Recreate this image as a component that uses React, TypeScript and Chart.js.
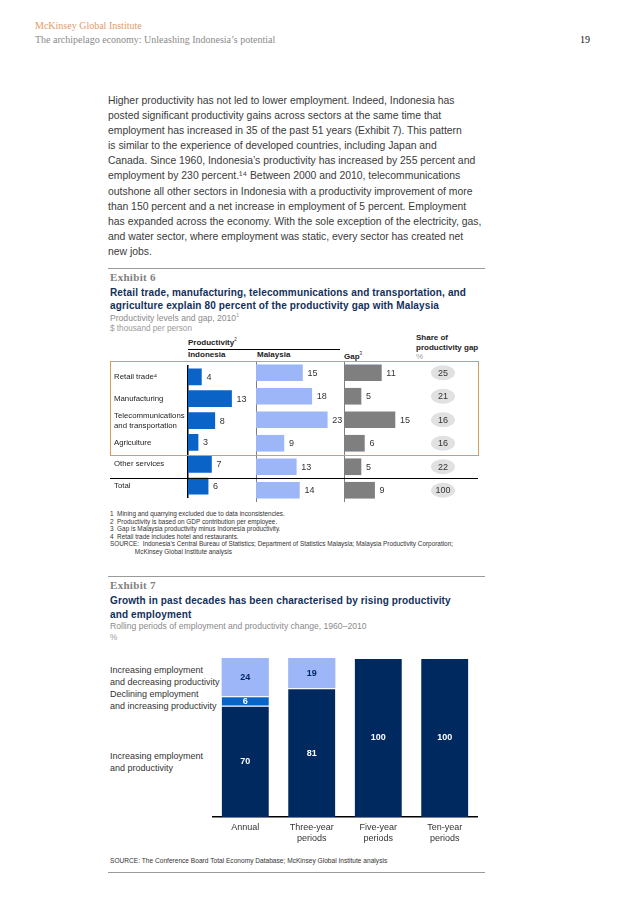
import React, { useEffect, useRef } from "react";
import { Chart, registerables } from "chart.js";

Chart.register(...registerables);

// ---------- Data ----------
const sectors: (string | string[])[] = [
  "Retail trade⁴",
  "Manufacturing",
  ["Telecommunications", "and transportation"],
  "Agriculture",
  "Other services",
  "Total",
];
const indonesiaProd = [4, 13, 8, 3, 7, 6];
const malaysiaProd = [15, 18, 23, 9, 13, 14];
const gapProd = [11, 5, 15, 6, 5, 9];
const shareOfGap = [25, 21, 16, 16, 22, 100];

const periods: string[][] = [
  ["Annual"],
  ["Three-year", "periods"],
  ["Five-year", "periods"],
  ["Ten-year", "periods"],
];
const incEmpIncProd = [70, 81, 100, 100];
const decEmpIncProd = [6, 0, 0, 0];
const incEmpDecProd = [24, 19, 0, 0];

const bodyLines = [
  "Higher productivity has not led to lower employment. Indeed, Indonesia has",
  "posted significant productivity gains across sectors at the same time that",
  "employment has increased in 35 of the past 51 years (Exhibit 7). This pattern",
  "is similar to the experience of developed countries, including Japan and",
  "Canada. Since 1960, Indonesia’s productivity has increased by 255 percent and",
  "employment by 230 percent.¹⁴ Between 2000 and 2010, telecommunications",
  "outshone all other sectors in Indonesia with a productivity improvement of more",
  "than 150 percent and a net increase in employment of 5 percent. Employment",
  "has expanded across the economy. With the sole exception of the electricity, gas,",
  "and water sector, where employment was static, every sector has created net",
  "new jobs.",
];

// ---------- Styles ----------
const SANS = "'Liberation Sans', Arial, Helvetica, sans-serif";
const SERIF = "'Liberation Serif', 'Times New Roman', serif";
const NAVY = "#002960";
const MIDBLUE = "#0a64c8";
const LIGHTBLUE = "#9db6f8";
const GAPGRAY = "#7f7f7f";
const TITLE = "#12305c";

const abs = (l: number, t: number, extra: React.CSSProperties = {}): React.CSSProperties => ({
  position: "absolute",
  left: l,
  top: t,
  ...extra,
});

// Plugin: value label at bar end (horizontal bars)
const endLabels = {
  id: "endLabels",
  afterDatasetsDraw(chart: any) {
    const ctx = chart.ctx;
    ctx.save();
    ctx.font = `9px ${SANS}`;
    ctx.fillStyle = "#333";
    ctx.textBaseline = "middle";
    ctx.textAlign = "left";
    const meta = chart.getDatasetMeta(0);
    const data = chart.data.datasets[0].data;
    meta.data.forEach((el: any, i: number) => {
      ctx.fillText(String(data[i]), el.x + 5, el.y + 0.5);
    });
    ctx.restore();
  },
};

// Plugin: share pills (drawn right of gap chart, on the same category scale)
const pillsPlugin = {
  id: "pills",
  afterDatasetsDraw(chart: any, _args: any, opts: any) {
    const ctx = chart.ctx;
    const yScale = chart.scales.y;
    const values: number[] = opts.values || [];
    const cx = chart.chartArea.right + opts.offset;
    ctx.save();
    values.forEach((v, i) => {
      const cy = yScale.getPixelForValue(i);
      ctx.beginPath();
      ctx.ellipse(cx, cy, 12, 7.5, 0, 0, Math.PI * 2);
      ctx.fillStyle = "#e1e1e1";
      ctx.fill();
      ctx.fillStyle = "#333";
      ctx.font = `9px ${SANS}`;
      ctx.textAlign = "center";
      ctx.textBaseline = "middle";
      ctx.fillText(String(v), cx, cy + 0.5);
    });
    ctx.restore();
  },
};

function makeHBar(
  canvas: HTMLCanvasElement,
  values: number[],
  color: string,
  max: number,
  opts: { showLabels?: boolean; padLeft?: number; padRight?: number; pills?: number[] }
) {
  return new Chart(canvas, {
    type: "bar",
    data: {
      labels: sectors as any,
      datasets: [
        {
          data: values,
          backgroundColor: color,
          barThickness: 16,
          borderWidth: 0,
        },
      ],
    },
    options: {
      indexAxis: "y",
      animation: false,
      responsive: false,
      maintainAspectRatio: false,
      layout: { padding: { left: opts.padLeft || 0, right: opts.padRight || 0, top: 0, bottom: 0 } },
      plugins: {
        legend: { display: false },
        tooltip: { enabled: false },
        pills: { values: opts.pills || [], offset: 28 },
      } as any,
      scales: {
        x: { display: false, min: 0, max },
        y: {
          display: true,
          grid: { display: false, drawTicks: false },
          border: { display: true, color: "#000", width: 1.5 },
          ticks: opts.showLabels
            ? {
                display: true,
                crossAlign: "far",
                padding: 0,
                color: "#222",
                font: { family: SANS, size: 7.8, lineHeight: 1.25 },
              }
            : { display: false },
          afterFit: (s: any) => {
            s.width = opts.showLabels ? 74 : 0;
          },
        } as any,
      },
    },
    plugins: opts.pills ? [endLabels, pillsPlugin] : [endLabels],
  } as any);
}

function Exhibit6Charts() {
  const r1 = useRef<HTMLCanvasElement>(null);
  const r2 = useRef<HTMLCanvasElement>(null);
  const r3 = useRef<HTMLCanvasElement>(null);
  useEffect(() => {
    const c1 = makeHBar(r1.current!, indonesiaProd, MIDBLUE, 20.3, { showLabels: true, padLeft: 4 });
    const c2 = makeHBar(r2.current!, malaysiaProd, LIGHTBLUE, 28.4, {});
    const c3 = makeHBar(r3.current!, gapProd, GAPGRAY, 20.9, { padRight: 63, pills: shareOfGap });
    return () => {
      c1.destroy();
      c2.destroy();
      c3.destroy();
    };
  }, []);
  return (
    <>
      <canvas ref={r1} width={146} height={141} style={abs(110, 361, { width: 146, height: 141 })} />
      <canvas ref={r2} width={88} height={141} style={abs(256, 361, { width: 88, height: 141 })} />
      <canvas ref={r3} width={134} height={141} style={abs(344, 361, { width: 134, height: 141 })} />
    </>
  );
}

const segLabels = {
  id: "segLabels",
  afterDatasetsDraw(chart: any) {
    const ctx = chart.ctx;
    ctx.save();
    ctx.font = `bold 9px ${SANS}`;
    ctx.textAlign = "center";
    ctx.textBaseline = "middle";
    chart.data.datasets.forEach((ds: any, di: number) => {
      const meta = chart.getDatasetMeta(di);
      meta.data.forEach((el: any, i: number) => {
        const v = ds.data[i];
        if (!v) return;
        ctx.fillStyle = ds.labelColor;
        ctx.fillText(String(v), el.x, (el.y + el.base) / 2 + 0.5);
      });
    });
    ctx.restore();
  },
};

function Exhibit7Chart() {
  const ref = useRef<HTMLCanvasElement>(null);
  useEffect(() => {
    const chart = new Chart(ref.current!, {
      type: "bar",
      data: {
        labels: periods as any,
        datasets: [
          {
            data: incEmpIncProd,
            backgroundColor: NAVY,
            labelColor: "#fff",
            borderColor: "#fff",
            borderWidth: { top: 1, bottom: 0, left: 0, right: 0 },
            borderSkipped: false,
          },
          {
            data: decEmpIncProd,
            backgroundColor: MIDBLUE,
            labelColor: "#fff",
            borderColor: "#fff",
            borderWidth: { top: 1, bottom: 0, left: 0, right: 0 },
            borderSkipped: false,
          },
          {
            data: incEmpDecProd,
            backgroundColor: LIGHTBLUE,
            labelColor: NAVY,
            borderWidth: 0,
          },
        ] as any,
      },
      options: {
        animation: false,
        responsive: false,
        maintainAspectRatio: false,
        layout: { padding: { top: 8, left: 0, right: 0, bottom: 0 } },
        datasets: { bar: { categoryPercentage: 1, barPercentage: 0.71 } },
        plugins: { legend: { display: false }, tooltip: { enabled: false } },
        scales: {
          x: {
            stacked: true,
            grid: { display: false, drawTicks: false },
            border: { display: true, color: "#000", width: 1.5 },
            ticks: {
              color: "#333",
              padding: 5,
              font: { family: SANS, size: 9, lineHeight: 1.2 },
              maxRotation: 0,
              autoSkip: false,
            },
            afterFit: (s: any) => {
              s.height = 30;
            },
          } as any,
          y: { stacked: true, display: false, min: 0, max: 100 },
        },
      },
      plugins: [segLabels],
    } as any);
    return () => chart.destroy();
  }, []);
  return <canvas ref={ref} width={266} height={197} style={abs(212, 650, { width: 266, height: 197 })} />;
}

export default function App() {
  const lineStyle = (t: number): React.CSSProperties =>
    abs(108, t, { width: 377, height: 0, borderTop: "1.5px solid #9a9a9a" });
  const foot: React.CSSProperties = { fontFamily: SANS, fontSize: 6.4, color: "#333", lineHeight: "7.6px", whiteSpace: "pre" };
  const legendTxt: React.CSSProperties = { fontFamily: SANS, fontSize: 9, color: "#333", lineHeight: "12px", whiteSpace: "pre" };
  return (
    <div style={{ position: "absolute", left: 0, top: 0, width: 638, height: 903, background: "#fff", overflow: "hidden" }}>
      {/* Page header */}
      <div style={abs(35, 20, { fontFamily: SERIF, fontSize: 10, color: "#e39a68", whiteSpace: "pre" })}>McKinsey Global Institute</div>
      <div style={abs(35, 34, { fontFamily: SERIF, fontSize: 10, color: "#8a8a8a", whiteSpace: "pre" })}>
        The archipelago economy: Unleashing Indonesia’s potential
      </div>
      <div style={abs(580, 34, { fontFamily: SERIF, fontSize: 10, color: "#111" })}>19</div>

      {/* Body text */}
      <div style={abs(108, 93, { fontFamily: SANS, fontSize: 10.4, color: "#3a3a3a", lineHeight: "15.1px", whiteSpace: "pre" })}>
        {bodyLines.map((l, i) => (
          <div key={i}>{l}</div>
        ))}
      </div>

      {/* Exhibit 6 */}
      <div style={lineStyle(268)} />
      <div style={abs(110, 271, { fontFamily: SERIF, fontSize: 11, fontWeight: "bold", color: "#808080", letterSpacing: 0.3 })}>Exhibit 6</div>
      <div style={abs(110, 286, { fontFamily: SANS, fontSize: 10, fontWeight: "bold", color: TITLE, lineHeight: "13px", whiteSpace: "pre", letterSpacing: 0.14 })}>
        {"Retail trade, manufacturing, telecommunications and transportation, and\nagriculture explain 80 percent of the productivity gap with Malaysia"}
      </div>
      <div style={abs(110, 312, { fontFamily: SANS, fontSize: 8.6, color: "#8a8a8a", whiteSpace: "pre" })}>
        Productivity levels and gap, 2010<sup style={{ fontSize: 5 }}>1</sup>
      </div>
      <div style={abs(110, 324, { fontFamily: SANS, fontSize: 8.2, color: "#9a9a9a", whiteSpace: "pre" })}>$ thousand per person</div>

      <div style={abs(188, 337, { fontFamily: SANS, fontSize: 8, fontWeight: "bold", color: "#222" })}>
        Productivity<sup style={{ fontSize: 4.5, fontWeight: "normal" }}>2</sup>
      </div>
      <div style={abs(188, 349, { width: 152, height: 0, borderTop: "1px solid #000" })} />
      <div style={abs(188, 350, { fontFamily: SANS, fontSize: 8, fontWeight: "bold", color: "#222" })}>Indonesia</div>
      <div style={abs(257, 350, { fontFamily: SANS, fontSize: 8, fontWeight: "bold", color: "#222" })}>Malaysia</div>
      <div style={abs(344, 351, { fontFamily: SANS, fontSize: 8, fontWeight: "bold", color: "#222" })}>
        Gap<sup style={{ fontSize: 4.5, fontWeight: "normal" }}>3</sup>
      </div>
      <div style={abs(416, 333, { fontFamily: SANS, fontSize: 8, fontWeight: "bold", color: "#222", lineHeight: "10px", whiteSpace: "pre" })}>
        {"Share of\nproductivity gap"}
      </div>
      <div style={abs(416, 352, { fontFamily: SANS, fontSize: 8, color: "#a0a0a0" })}>%</div>
      <div style={abs(415, 361, { width: 63, height: 0, borderTop: "1px solid #000" })} />

      <Exhibit6Charts />
      <div style={abs(110, 361, { width: 367, height: 93, border: "1px solid #d99a5c", boxSizing: "content-box", pointerEvents: "none" })} />
      <div style={abs(110, 478, { width: 368, height: 0, borderTop: "1px solid #000" })} />

      <div style={abs(110, 510, foot)}>
        {"1  Mining and quarrying excluded due to data inconsistencies.\n2  Productivity is based on GDP contribution per employee.\n3  Gap is Malaysia productivity minus Indonesia productivity.\n4  Retail trade includes hotel and restaurants.\nSOURCE:  Indonesia’s Central Bureau of Statistics; Department of Statistics Malaysia; Malaysia Productivity Corporation;\n              McKinsey Global Institute analysis"}
      </div>

      {/* Exhibit 7 */}
      <div style={lineStyle(576)} />
      <div style={abs(110, 579, { fontFamily: SERIF, fontSize: 11, fontWeight: "bold", color: "#808080", letterSpacing: 0.3 })}>Exhibit 7</div>
      <div style={abs(110, 594, { fontFamily: SANS, fontSize: 10, fontWeight: "bold", color: TITLE, lineHeight: "14px", whiteSpace: "pre", letterSpacing: 0.14 })}>
        {"Growth in past decades has been characterised by rising productivity\nand employment"}
      </div>
      <div style={abs(110, 621, { fontFamily: SANS, fontSize: 8.6, color: "#8a8a8a", whiteSpace: "pre" })}>
        Rolling periods of employment and productivity change, 1960–2010
      </div>
      <div style={abs(110, 633, { fontFamily: SANS, fontSize: 8.2, color: "#9a9a9a" })}>%</div>

      <div style={abs(110, 664, legendTxt)}>{"Increasing employment\nand decreasing productivity"}</div>
      <div style={abs(110, 688, legendTxt)}>{"Declining employment\nand increasing productivity"}</div>
      <div style={abs(110, 750, legendTxt)}>{"Increasing employment\nand productivity"}</div>

      <Exhibit7Chart />

      <div style={abs(110, 857, { fontFamily: SANS, fontSize: 6.6, color: "#333", whiteSpace: "pre" })}>
        SOURCE: The Conference Board Total Economy Database; McKinsey Global Institute analysis
      </div>
      <div style={lineStyle(872)} />
    </div>
  );
}
